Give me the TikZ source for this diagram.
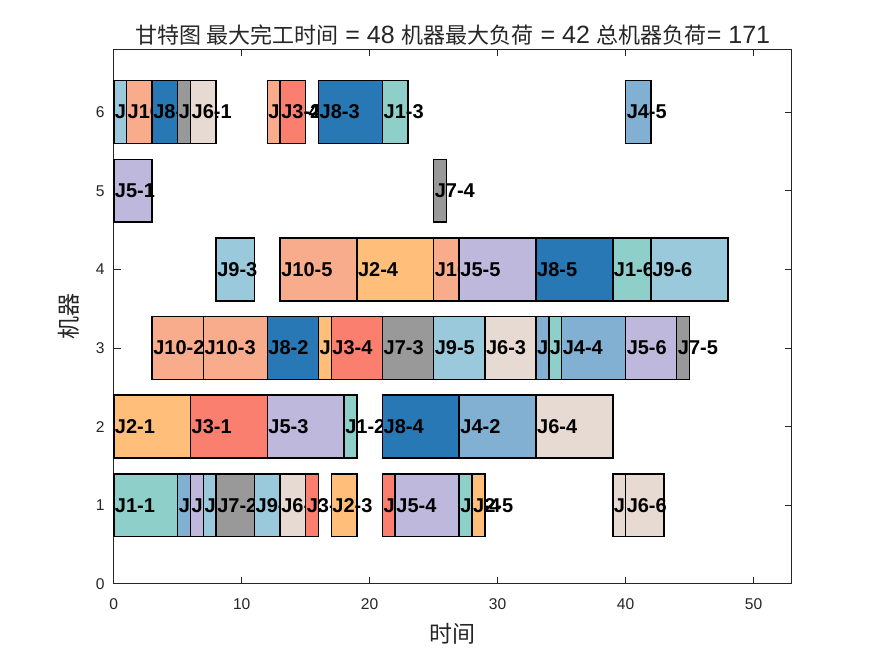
\documentclass[tikz,border=0pt]{standalone}
\usepackage{fontspec}
\setmainfont{Liberation Sans}
\newfontfamily\cjk{Noto Sans CJK SC}
\definecolor{J1}{HTML}{8ECFC9}
\definecolor{J2}{HTML}{FFBE7A}
\definecolor{J3}{HTML}{FA7F6F}
\definecolor{J4}{HTML}{82B0D2}
\definecolor{J5}{HTML}{BEB8DC}
\definecolor{J6}{HTML}{E7DAD2}
\definecolor{J7}{HTML}{999999}
\definecolor{J8}{HTML}{2878B5}
\definecolor{J9}{HTML}{9AC9DB}
\definecolor{J10}{HTML}{F8AC8C}
\definecolor{axisgray}{HTML}{262626}

\begin{document}
\begin{tikzpicture}[x=12.795pt, y=78.62pt,
    axisline/.style={draw=axisgray, line width=0.8pt},
    bar/.style={draw=black, line width=1.5pt},
    oplabel/.style={anchor=west, inner xsep=1pt, inner ysep=0pt, font=\bfseries\fontsize{20}{20}\selectfont},
    ticklabel/.style={text=axisgray, inner sep=0pt, font=\fontsize{15.6}{16}\selectfont}]
    \fill[white] (-113.75pt,-72.16pt) rectangle (761.25pt,583.84pt);
    \useasboundingbox (-113.75pt,-72.16pt) rectangle (761.25pt,583.84pt);
    % axes box and ticks
    \draw[axisline] (0,0) rectangle (53,6.8);
    \foreach \x in {0,10,...,50} {
        \draw[axisline] (\x,0) -- ++(0,6.8pt);
        \draw[axisline] (\x,6.8) -- ++(0,-6.8pt);
        \node[ticklabel, anchor=base, yshift=-26pt] (xt\x) at (\x,0) {\x};
    }
    \foreach \y in {0,...,6} {
        \draw[axisline] (0,\y) -- ++(6.8pt,0);
        \draw[axisline] (53,\y) -- ++(-6.8pt,0);
        \node[ticklabel, anchor=east, xshift=-9pt] (yt\y) at (0,\y) {\y};
    }
    % operations: machine/start/end/job/step
    \foreach \m/\s/\e/\j/\k [count=\i] in {
        1/0/5/1/1, 1/5/6/4/1, 1/6/7/5/2, 1/7/8/9/2, 1/8/11/7/2, 1/11/13/9/4,
        1/13/15/6/2, 1/15/16/3/3, 1/17/19/2/3, 1/21/22/3/5, 1/22/27/5/4,
        1/27/28/1/4, 1/28/29/2/5, 1/39/40/6/5, 1/40/43/6/6,
        2/0/6/2/1, 2/6/12/3/1, 2/12/18/5/3, 2/18/19/1/2, 2/21/27/8/4,
        2/27/33/4/2, 2/33/39/6/4,
        3/3/7/10/2, 3/7/12/10/3, 3/12/16/8/2, 3/16/17/2/2, 3/17/21/3/4,
        3/21/25/7/3, 3/25/29/9/5, 3/29/33/6/3, 3/33/34/4/3, 3/34/35/1/5,
        3/35/40/4/4, 3/40/44/5/6, 3/44/45/7/5,
        4/8/11/9/3, 4/13/19/10/5, 4/19/25/2/4, 4/25/27/10/6, 4/27/33/5/5,
        4/33/39/8/5, 4/39/42/1/6, 4/42/48/9/6,
        5/0/3/5/1, 5/25/26/7/4,
        6/0/1/9/1, 6/1/3/10/1, 6/3/5/8/1, 6/5/6/7/1, 6/6/8/6/1,
        6/12/13/10/4, 6/13/15/3/2, 6/16/21/8/3, 6/21/23/1/3, 6/40/42/4/5} {
        \draw[bar, fill=J\j] (\s,\m-0.4) rectangle (\e,\m+0.4);
        \node[oplabel] (op\i) at (\s,\m) {J\j-\k};
    }
    % title and axis labels
    \node[anchor=base, yshift=5.9pt, text=axisgray, font=\fontsize{25}{25}\selectfont] (title) at (26.5,6.8)
        {{\cjk\fontsize{22}{22}\selectfont 甘特图 最大完工时间} = 48 {\cjk\fontsize{22}{22}\selectfont 机器最大负荷} = 42 {\cjk\fontsize{22}{22}\selectfont 总机器负荷}= 171};
    \node[anchor=base, yshift=-59pt, text=axisgray, font=\cjk\fontsize{23}{23}\selectfont] (xlab) at (26.5,0) {时间};
    \node[anchor=base, rotate=90, text=axisgray, font=\cjk\fontsize{23}{23}\selectfont] (ylab) at ([xshift=-36pt]0,3.4) {机器};
\end{tikzpicture}
\end{document}
